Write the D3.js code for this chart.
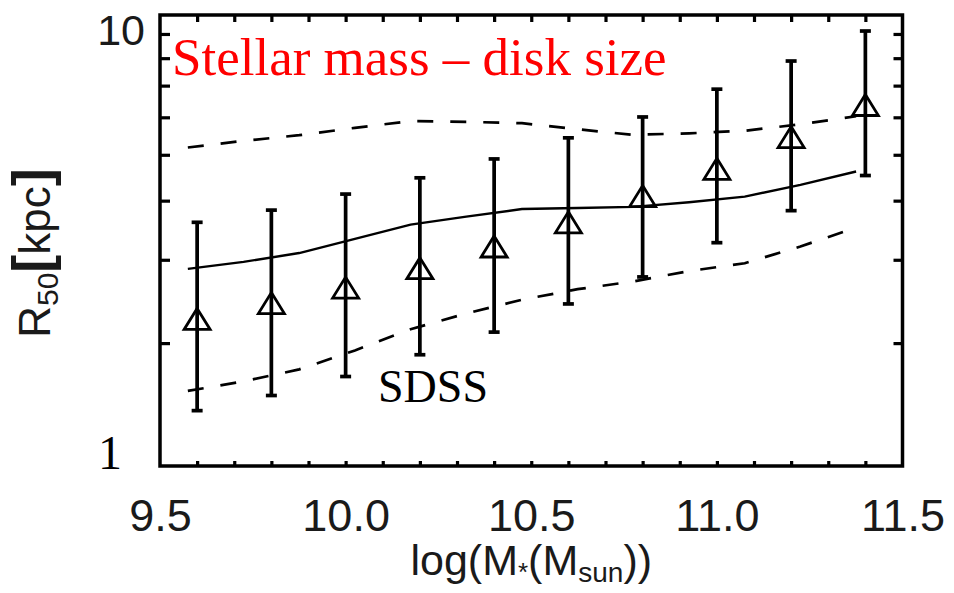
<!DOCTYPE html>
<html>
<head>
<meta charset="utf-8">
<script src="https://cdn.jsdelivr.net/npm/d3@7"></script>
<style>
  html, body { margin: 0; padding: 0; background: #fff; }
  svg { display: block; }
</style>
</head>
<body>
<svg id="chart" width="954" height="593"></svg>
<script>
// ---------------- data ----------------
const sdssX      = [9.6, 9.8, 10.0, 10.2, 10.4, 10.6, 10.8, 11.0, 11.2, 11.4];
const sdssMedian = [2.25, 2.43, 2.62, 2.88, 3.20, 3.60, 4.09, 4.67, 5.45, 6.37];
const sdssUpper  = [3.60, 3.82, 4.13, 4.47, 4.90, 5.43, 6.01, 6.88, 7.89, 9.13];
const sdssLower  = [1.44, 1.55, 1.70, 1.89, 2.11, 2.42, 2.76, 3.26, 3.81, 4.52];

const modelX      = [9.575, 9.725, 9.875, 10.025, 10.175, 10.325, 10.475, 10.625, 10.775, 10.925, 11.075, 11.225, 11.375];
const modelMedian = [2.87, 2.97, 3.10, 3.32, 3.56, 3.70, 3.84, 3.86, 3.88, 3.97, 4.08, 4.32, 4.61];
const modelUpper  = [5.18, 5.35, 5.50, 5.70, 5.89, 5.87, 5.83, 5.66, 5.51, 5.55, 5.62, 5.80, 6.03];
const modelLower  = [1.585, 1.66, 1.76, 1.93, 2.14, 2.31, 2.47, 2.60, 2.70, 2.84, 2.95, 3.20, 3.51];

const xDomain      = [9.5, 11.5];
const yDomain      = [1.1, 9.87];
const xMinorTicks  = [9.6, 9.7, 9.8, 9.9, 10.0, 10.1, 10.2, 10.3, 10.4, 10.5, 10.6, 10.7, 10.8, 10.9, 11.0, 11.1, 11.2, 11.3, 11.4];
const xLabelTicks  = [9.5, 10.0, 10.5, 11.0, 11.5];
const yMinorTicks  = [2, 3, 4, 5, 6, 7, 8, 9];
const yTopLabel    = "10";
const yBottomLabel = "1";
const titleText    = "Stellar mass \u2013 disk size";
const sampleLabel  = "SDSS";

// ---------------- layout ----------------
const svg = d3.select("#chart");
const L = 160, R = 902.5, T = 15, B = 466;
const sans = "Liberation Sans, Arial, sans-serif";
const serif = "Liberation Serif, Times New Roman, serif";

const x = d3.scaleLinear().domain(xDomain).range([L, R]);
const y = d3.scaleLog().domain(yDomain).range([B, T]);

const axisStroke = 3.5;

function styleAxis(g) {
  g.select(".domain").remove();
  g.selectAll(".tick line").attr("stroke", "#000").attr("stroke-width", 3.2);
}

// ticks (inward)
svg.append("g").attr("transform", `translate(0,${B})`)
  .call(d3.axisBottom(x).tickValues(xMinorTicks).tickSize(-5).tickFormat(""))
  .call(styleAxis);
svg.append("g").attr("transform", `translate(0,${T})`)
  .call(d3.axisTop(x).tickValues(xMinorTicks).tickSize(-7).tickFormat(""))
  .call(styleAxis);
svg.append("g").attr("transform", `translate(${L},0)`)
  .call(d3.axisLeft(y).tickValues(yMinorTicks).tickSize(-10).tickFormat(""))
  .call(styleAxis);
svg.append("g").attr("transform", `translate(${R},0)`)
  .call(d3.axisRight(y).tickValues(yMinorTicks).tickSize(-9).tickFormat(""))
  .call(styleAxis);

// frame
svg.append("rect")
  .attr("x", L).attr("y", T).attr("width", R - L).attr("height", B - T)
  .attr("fill", "none").attr("stroke", "#000").attr("stroke-width", axisStroke);

// x tick labels
const xl = svg.append("g").attr("transform", `translate(0,${B})`)
  .call(d3.axisBottom(x).tickValues(xLabelTicks).tickSize(0).tickPadding(33).tickFormat(d3.format(".1f")));
xl.select(".domain").remove();
xl.selectAll("text")
  .attr("font-family", sans).attr("font-size", 45).attr("fill", "#1a1a1a");

// y labels
svg.append("text").attr("x", 145).attr("y", T + 30)
  .attr("text-anchor", "end").attr("font-family", sans).attr("font-size", 43)
  .attr("fill", "#1a1a1a").text(yTopLabel);
svg.append("text").attr("x", 110).attr("y", B + 3)
  .attr("text-anchor", "middle").attr("font-family", serif).attr("font-size", 48)
  .attr("fill", "#000").text(yBottomLabel);

// ---------------- model lines ----------------
const line = (vals) => d3.line().x((d, i) => x(modelX[i])).y(d => y(d))(vals);

svg.append("path").attr("d", line(modelMedian))
  .attr("fill", "none").attr("stroke", "#000").attr("stroke-width", 2.4);
svg.append("path").attr("d", line(modelUpper))
  .attr("fill", "none").attr("stroke", "#000").attr("stroke-width", 2.7)
  .attr("stroke-dasharray", "16,17");
svg.append("path").attr("d", line(modelLower))
  .attr("fill", "none").attr("stroke", "#000").attr("stroke-width", 2.7)
  .attr("stroke-dasharray", "16,17");

// ---------------- SDSS points ----------------
const pts = sdssX.map((v, i) => ({ x: v, m: sdssMedian[i], lo: sdssLower[i], hi: sdssUpper[i] }));
const eb = svg.append("g").attr("stroke", "#000").attr("stroke-width", 3.7).attr("fill", "none");
eb.selectAll("line.v").data(pts).join("line")
  .attr("x1", d => x(d.x)).attr("x2", d => x(d.x))
  .attr("y1", d => y(d.lo)).attr("y2", d => y(d.hi));
eb.selectAll("line.cl").data(pts).join("line")
  .attr("x1", d => x(d.x) - 5.5).attr("x2", d => x(d.x) + 5.5)
  .attr("y1", d => y(d.lo)).attr("y2", d => y(d.lo));
eb.selectAll("line.ch").data(pts).join("line")
  .attr("x1", d => x(d.x) - 5.5).attr("x2", d => x(d.x) + 5.5)
  .attr("y1", d => y(d.hi)).attr("y2", d => y(d.hi));

svg.append("g").selectAll("path").data(pts).join("path")
  .attr("d", d => {
    const cx = x(d.x), cy = y(d.m);
    return `M${cx},${cy - 10.5}L${cx + 13},${cy + 10.5}L${cx - 13},${cy + 10.5}Z`;
  })
  .attr("fill", "none").attr("stroke", "#000").attr("stroke-width", 2.8)
  .attr("stroke-linejoin", "miter");

// ---------------- texts ----------------
svg.append("text").attr("x", 172).attr("y", 75)
  .attr("font-family", serif).attr("font-size", 53).attr("fill", "#ff0000")
  .text(titleText);
svg.append("text").attr("x", 378).attr("y", 402)
  .attr("font-family", serif).attr("font-size", 46).attr("fill", "#000")
  .text(sampleLabel);

// x axis title: log(M*(Msun))
const xt = svg.append("text").attr("x", (L + R) / 2).attr("y", 575)
  .attr("text-anchor", "middle").attr("font-family", sans).attr("font-size", 43).attr("fill", "#1a1a1a");
xt.append("tspan").text("log(M");
xt.append("tspan").attr("font-size", 26).attr("dy", 6).text("*");
xt.append("tspan").attr("dy", -6).text("(M");
xt.append("tspan").attr("font-size", 28).attr("dy", 7).text("sun");
xt.append("tspan").attr("dy", -7).text("))");

// y axis title: R50[kpc]
const yt = svg.append("text")
  .attr("transform", "translate(50,253) rotate(-90)")
  .attr("text-anchor", "middle").attr("font-family", sans).attr("font-size", 44).attr("fill", "#1a1a1a");
yt.append("tspan").text("R");
yt.append("tspan").attr("font-size", 30).attr("dy", 8).text("50");
yt.append("tspan").attr("dy", -8).attr("font-weight", "bold").attr("font-size", 54).text("[");
yt.append("tspan").text("kpc");
yt.append("tspan").attr("font-weight", "bold").attr("font-size", 54).text("]");
</script>
</body>
</html>
